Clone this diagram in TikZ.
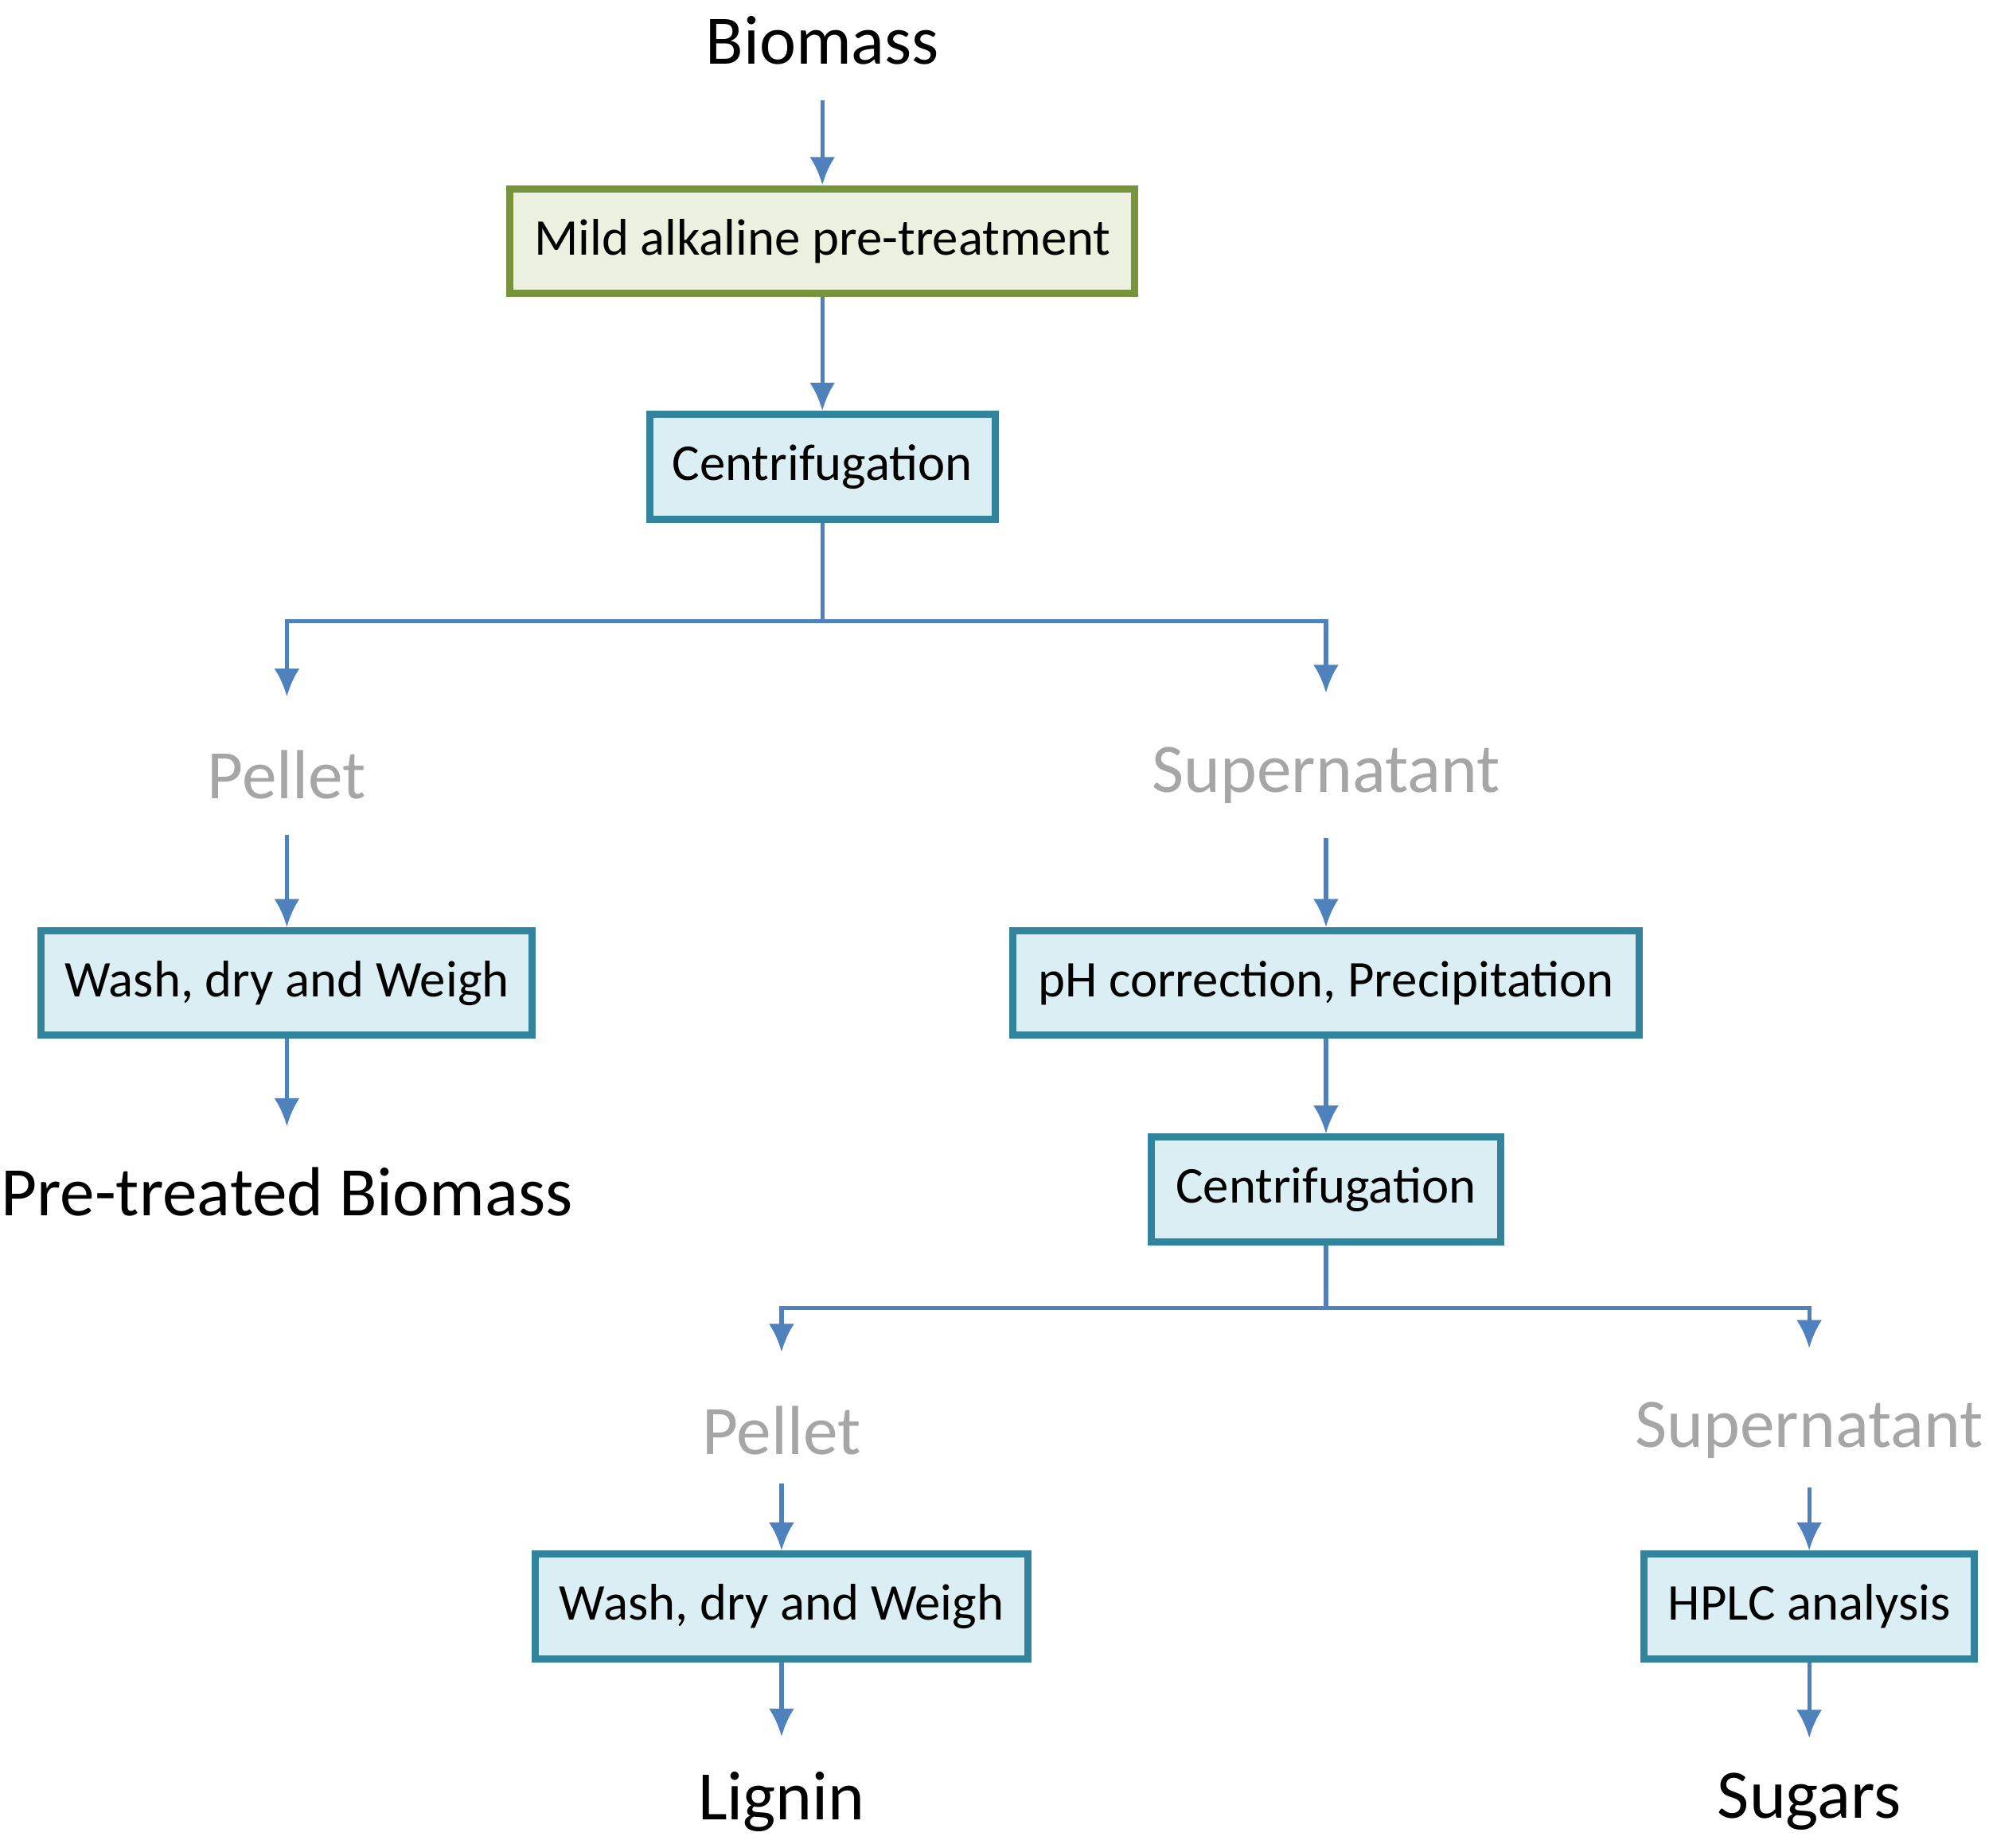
\documentclass[tikz,border=0pt]{standalone}
\usepackage{fontspec}
\setmainfont{Carlito}
\usetikzlibrary{arrows.meta}
\definecolor{boxfill}{HTML}{DAEEF3}
\definecolor{boxline}{HTML}{31849B}
\definecolor{greenfill}{HTML}{EBF1DE}
\definecolor{greenline}{HTML}{77933C}
\definecolor{flowline}{HTML}{4F81BD}
\tikzstyle{stepbox} = [rectangle,draw=boxline,fill=boxfill,line width=1.6pt,minimum height=0.82cm,text centered,font=\fontsize{11.5}{14}\selectfont]
\tikzstyle{greenbox} = [stepbox,draw=greenline,fill=greenfill]
\tikzstyle{endlabel} = [font=\fontsize{15.5}{19}\selectfont,text=black]
\tikzstyle{phaselabel} = [font=\fontsize{15.5}{19}\selectfont,text=black!35]
\tikzstyle{arrow} = [draw=flowline,line width=0.9pt,-{Latex[length=2.2mm,width=2mm]}]
\tikzstyle{flow} = [draw=flowline,line width=0.9pt]
\begin{document}
\begin{tikzpicture}[x=0.01cm,y=-0.01cm]
\useasboundingbox (0,0) rectangle (1560,1449);

\node (bio) [endlabel] at (645,32) {Biomass};
\node (mild) [greenbox,minimum width=4.9cm] at (645,189) {Mild alkaline pre-treatment};
\node (cen1) [stepbox,minimum width=2.71cm] at (645,366) {Centrifugation};

\node (pel1) [phaselabel] at (225,608) {Pellet};
\node (sup1) [phaselabel] at (1040,608) {Supernatant};
\node (wash1) [stepbox,minimum width=3.85cm] at (225,771) {Wash, dry and Weigh};
\node (ptb) [endlabel,font=\fontsize{15.5}{19}\selectfont] at (225,935) {Pre-treated Biomass};
\node (ph) [stepbox,minimum width=4.91cm] at (1040,771) {pH correction, Precipitation};
\node (cen2) [stepbox,minimum width=2.74cm] at (1040,933) {Centrifugation};

\node (pel2) [phaselabel] at (613,1122) {Pellet};
\node (sup2) [phaselabel] at (1419,1122) {Supernatant};
\node (wash2) [stepbox,minimum width=3.86cm] at (613,1260) {Wash, dry and Weigh};
\node (hplc) [stepbox,minimum width=2.59cm] at (1419,1260) {HPLC analysis};
\node (lig) [endlabel] at (613,1413) {Lignin};
\node (sug) [endlabel] at (1419,1413) {Sugars};

\coordinate (s1) at (645,487);
\coordinate (s2) at (1040,1026);

\draw[arrow] (bio.south) ++(0,15) -- (mild.north);
\draw[arrow] (mild) -- (cen1);
\draw[flow] (cen1.south) -- (s1);
\draw[arrow] (s1) -| ([yshift=0.3cm]pel1.north);
\draw[arrow] (s1) -| ([yshift=0.3cm]sup1.north);
\draw[arrow] ([yshift=-0.15cm]pel1.south) -- (wash1.north);
\draw[arrow] ([yshift=-0.15cm]sup1.south) -- (ph.north);
\draw[arrow] (wash1.south) -- ([yshift=0.2cm]ptb.north);
\draw[arrow] (ph) -- (cen2);
\draw[flow] (cen2.south) -- (s2);
\draw[arrow] (s2) -| ([yshift=0.3cm]pel2.north);
\draw[arrow] (s2) -| ([yshift=0.3cm]sup2.north);
\draw[arrow] ([yshift=-0.1cm]pel2.south) -- (wash2.north);
\draw[arrow] ([yshift=-0.1cm]sup2.south) -- (hplc.north);
\draw[arrow] (wash2.south) -- ([yshift=0.15cm]lig.north);
\draw[arrow] (hplc.south) -- ([yshift=0.15cm]sug.north);
\end{tikzpicture}
\end{document}
